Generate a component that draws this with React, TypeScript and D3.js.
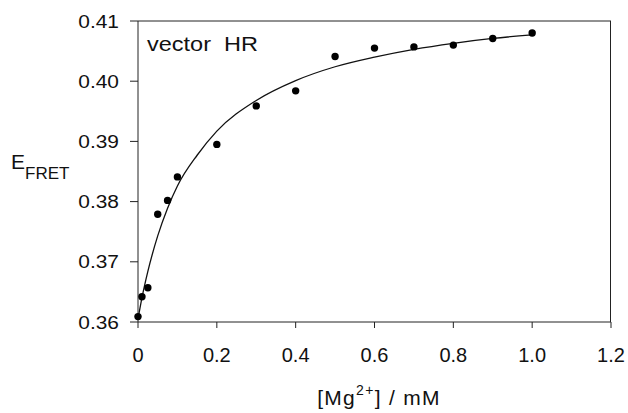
import React from "react";
import * as d3 from "d3";

const mgConc = [0, 0.01, 0.025, 0.05, 0.075, 0.1, 0.2, 0.3, 0.4, 0.5, 0.6, 0.7, 0.8, 0.9, 1.0];
const efret = [0.3609, 0.3642, 0.3657, 0.3779, 0.3802, 0.3841, 0.3895, 0.3959, 0.3984, 0.4041, 0.4055, 0.4057, 0.4060, 0.4071, 0.4080];

const fitX = [0, 0.01, 0.025, 0.05, 0.075, 0.1, 0.15, 0.2, 0.3, 0.4, 0.5, 0.6, 0.7, 0.8, 0.9, 1.0];
const fitY = [0.3605, 0.3640, 0.3684, 0.3743, 0.3789, 0.3826, 0.3877, 0.3917, 0.3968, 0.4001, 0.4024, 0.4040, 0.4053, 0.4063, 0.4071, 0.4077];

const xTicks = [0, 0.2, 0.4, 0.6, 0.8, 1.0, 1.2];
const xTickLabels = ["0", "0.2", "0.4", "0.6", "0.8", "1.0", "1.2"];
const yTicks = [0.36, 0.37, 0.38, 0.39, 0.40, 0.41];
const yTickLabels = ["0.36", "0.37", "0.38", "0.39", "0.40", "0.41"];

const FONT = "'Liberation Sans', Arial, Helvetica, sans-serif";

export default function App() {
  const W = 628, H = 413;
  const x = d3.scaleLinear().domain([0, 1.2]).range([138, 611]);
  const y = d3.scaleLinear().domain([0.36, 0.41]).range([322, 21]);
  const line = d3
    .line<number>()
    .x((d, i) => x(fitX[i]))
    .y((d) => y(d))
    .curve(d3.curveMonotoneX);

  const x0 = x(0), x1 = x(1.2), yb = y(0.36), yt = y(0.41);

  return (
    <svg width={W} height={H} style={{ position: "absolute", left: 0, top: 0, background: "#fff" }} fontFamily={FONT}>
      <rect x={0} y={0} width={W} height={H} fill="#fff" />
      {/* frame */}
      <line x1={x0} y1={yt} x2={x1} y2={yt} stroke="#222" strokeWidth={1} />
      <line x1={x1 - 0.5} y1={yt} x2={x1 - 0.5} y2={yb} stroke="#222" strokeWidth={1} />
      <line x1={x0} y1={yt} x2={x0} y2={yb} stroke="#222" strokeWidth={1} />
      <line x1={x0} y1={yb} x2={x1} y2={yb} stroke="#222" strokeWidth={1} />
      {/* y ticks */}
      {yTicks.map((t, i) => (
        <g key={"y" + i}>
          <line x1={x0 - 8} x2={x0} y1={y(t)} y2={y(t)} stroke="#222" strokeWidth={1} />
          <text
            x={119}
            y={y(t)}
            textAnchor="end"
            dominantBaseline="central"
            fontSize={19}
            transform={`translate(${119},0) scale(1.1,1) translate(${-119},0)`}
            fill="#111"
          >
            {yTickLabels[i]}
          </text>
        </g>
      ))}
      {/* x ticks */}
      {xTicks.map((t, i) => (
        <g key={"x" + i}>
          <line x1={x(t)} x2={x(t)} y1={yb} y2={yb + 6} stroke="#222" strokeWidth={1} />
          <text x={x(t)} y={362} textAnchor="middle" fontSize={20} fill="#111">
            {xTickLabels[i]}
          </text>
        </g>
      ))}
      {/* fit curve */}
      <path d={line(fitY) || ""} fill="none" stroke="#111" strokeWidth={1.3} />
      {/* points */}
      {mgConc.map((c, i) => (
        <circle key={"p" + i} cx={x(c)} cy={y(efret[i])} r={3.7} fill="#000" />
      ))}
      {/* inset label */}
      <text x={147} y={51} fontSize={21} fill="#111" transform="translate(147,0) scale(1.12,1) translate(-147,0)">
        vector{"\u00A0"} HR
      </text>
      {/* y axis title */}
      <text x={11} y={169} fill="#111">
        <tspan fontSize={21} transform="">E</tspan>
        <tspan fontSize={17} dy={10}>FRET</tspan>
      </text>
      {/* x axis title */}
      <text x={379} y={405} textAnchor="middle" fontSize={21} fill="#111" letterSpacing={1.3}>
        [Mg
        <tspan fontSize={14} dy={-10}>2+</tspan>
        <tspan dy={10}>] / mM</tspan>
      </text>
    </svg>
  );
}
